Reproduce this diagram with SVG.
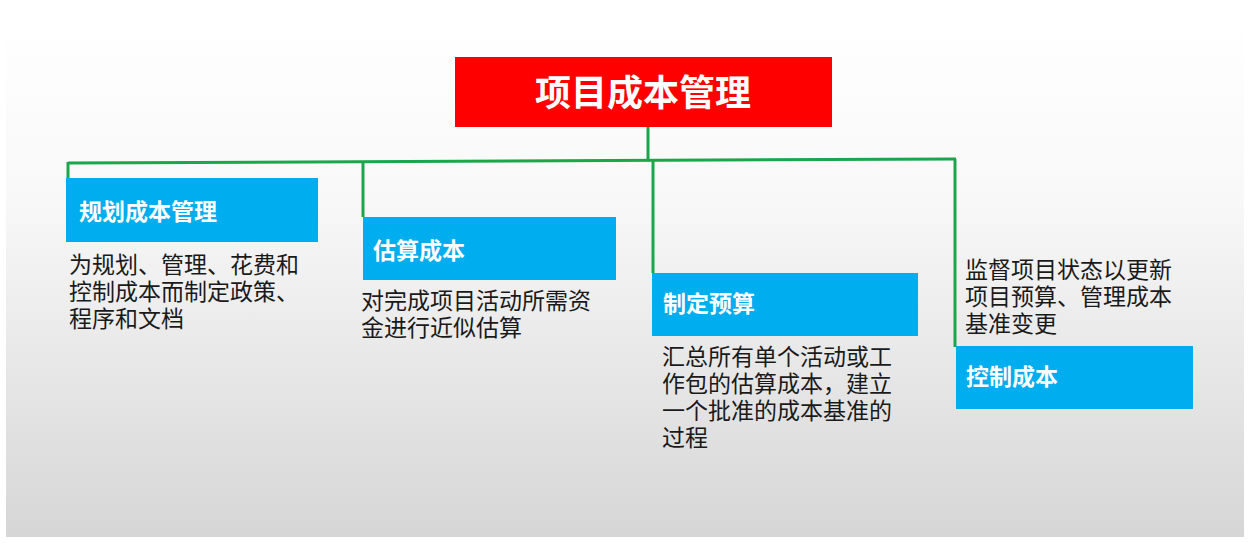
<svg xmlns="http://www.w3.org/2000/svg" width="1259" height="555" viewBox="0 0 1259 555">
  <defs>
    <linearGradient id="bg" x1="0" y1="0" x2="0" y2="1">
      <stop offset="0" stop-color="#ffffff"/>
      <stop offset="0.35" stop-color="#f8f8f8"/>
      <stop offset="1" stop-color="#d6d6d6"/>
    </linearGradient>
    <style>
      .lbl { font-family: "Noto Sans CJK SC", sans-serif; font-weight: bold; font-size: 23px; fill: #ffffff; }
      .title { font-family: "Noto Sans CJK SC", sans-serif; font-weight: bold; font-size: 36px; fill: #ffffff; }
      .desc { font-family: "Noto Sans CJK SC", sans-serif; font-size: 23px; fill: #1a1a1a; }
      .box { fill: #00adef; }
      .conn { stroke: #1aa64a; stroke-width: 3; fill: none; }
    </style>
  </defs>
  <rect x="0" y="0" width="1259" height="555" fill="#ffffff"/>
  <rect x="6" y="20" width="1238" height="517" fill="url(#bg)"/>

  <g id="connectors">
    <line class="conn" x1="648" y1="127" x2="648" y2="161"/>
    <line class="conn" x1="68" y1="163" x2="956" y2="159"/>
    <line class="conn" x1="68" y1="162" x2="68" y2="178"/>
    <line class="conn" x1="363" y1="161" x2="363" y2="217"/>
    <line class="conn" x1="653" y1="160" x2="653" y2="273"/>
    <line class="conn" x1="955" y1="159" x2="955" y2="347"/>
  </g>

  <g id="root">
    <rect x="455" y="57" width="377" height="70" fill="#fe0000"/>
    <text class="title" x="643" y="106" text-anchor="middle">项目成本管理</text>
  </g>

  <g id="plan">
    <rect class="box" x="66" y="178" width="252" height="64"/>
    <text class="lbl" x="79" y="220">规划成本管理</text>
    <text class="desc" x="69" y="273">为规划、管理、花费和</text>
    <text class="desc" x="69" y="300">控制成本而制定政策、</text>
    <text class="desc" x="69" y="327">程序和文档</text>
  </g>

  <g id="estimate">
    <rect class="box" x="363" y="217" width="253" height="63"/>
    <text class="lbl" x="373" y="259">估算成本</text>
    <text class="desc" x="361" y="309">对完成项目活动所需资</text>
    <text class="desc" x="361" y="336">金进行近似估算</text>
  </g>

  <g id="budget">
    <rect class="box" x="652" y="273" width="266" height="63"/>
    <text class="lbl" x="663" y="312">制定预算</text>
    <text class="desc" x="662" y="365">汇总所有单个活动或工</text>
    <text class="desc" x="662" y="392">作包的估算成本，建立</text>
    <text class="desc" x="662" y="419">一个批准的成本基准的</text>
    <text class="desc" x="662" y="446">过程</text>
  </g>

  <g id="control">
    <rect class="box" x="956" y="346" width="237" height="63"/>
    <text class="lbl" x="966" y="385">控制成本</text>
    <text class="desc" x="965" y="278">监督项目状态以更新</text>
    <text class="desc" x="965" y="305">项目预算、管理成本</text>
    <text class="desc" x="965" y="332">基准变更</text>
  </g>
</svg>
